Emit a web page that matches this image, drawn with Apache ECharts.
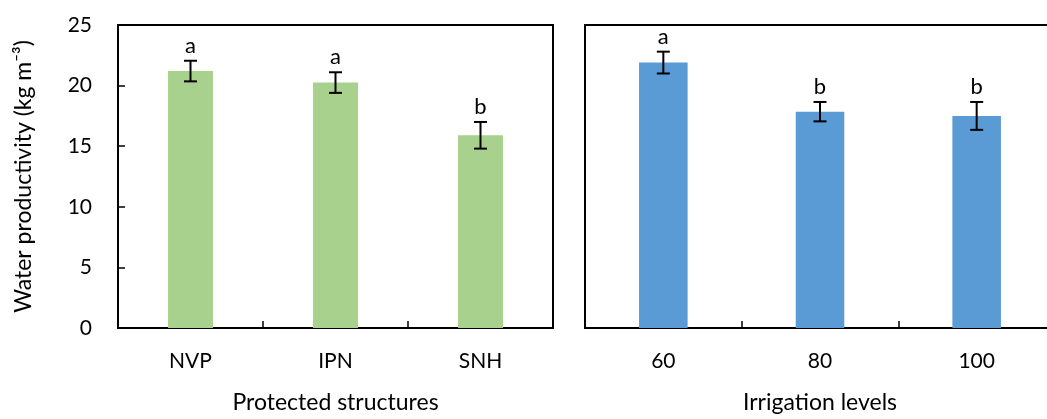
<!DOCTYPE html>
<html>
<head>
<meta charset="utf-8">
<script src="https://cdn.jsdelivr.net/npm/echarts@6/dist/echarts.min.js"></script>
<style>html,body{margin:0;padding:0;background:#fff;overflow:hidden}#c{width:1058px;height:419px}</style>
</head>
<body>
<div id="c"></div>
<script>
// Data
var structCats = ['NVP', 'IPN', 'SNH'];
var structVals = [21.2, 20.25, 15.9];
var structErr = [0.85, 0.85, 1.1];
var structLetters = ['a', 'a', 'b'];

var irrCats = ['60', '80', '100'];
var irrVals = [21.9, 17.85, 17.5];
var irrErr = [0.9, 0.8, 1.15];
var irrLetters = ['a', 'b', 'b'];

var yTicks = [0, 5, 10, 15, 20, 25];

var FONT = 'Lato, "Open Sans", sans-serif';

function errData(vals, errs, letters) {
  return vals.map(function (v, i) { return [i, v, errs[i], letters[i]]; });
}

function renderErr(params, api) {
  var x = api.value(0), v = api.value(1), e = api.value(2);
  var letter = api.value(3);
  var top = api.coord([x, v + e]);
  var bot = api.coord([x, v - e]);
  var cap = 6.5;
  var st = { stroke: '#000', lineWidth: 2 };
  return {
    type: 'group',
    children: [
      { type: 'line', shape: { x1: top[0], y1: top[1], x2: bot[0], y2: bot[1] }, style: st },
      { type: 'line', shape: { x1: top[0] - cap, y1: top[1], x2: top[0] + cap, y2: top[1] }, style: st },
      { type: 'line', shape: { x1: bot[0] - cap, y1: bot[1], x2: bot[0] + cap, y2: bot[1] }, style: st },
      { type: 'text', style: { text: letter, x: top[0], y: top[1] - 4, textAlign: 'center', textVerticalAlign: 'bottom', fill: '#000', fontSize: 22, fontFamily: FONT } }
    ]
  };
}

var chart = echarts.init(document.getElementById('c'), null, { renderer: 'canvas' });

var option = {
  animation: false,
  backgroundColor: '#fff',
  grid: [
    { left: 118, top: 25, width: 435, height: 306, show: true, borderColor: '#000', borderWidth: 2 },
    { left: 585, top: 25, width: 470, height: 306, show: true, borderColor: '#000', borderWidth: 2 }
  ],
  xAxis: [
    {
      type: 'category', gridIndex: 0, data: structCats,
      name: 'Protected structures', nameLocation: 'middle', nameGap: 63,
      nameTextStyle: { fontSize: 23, fontFamily: FONT, color: '#000' },
      axisLine: { lineStyle: { color: '#000', width: 2 } },
      axisTick: { show: true, inside: true, length: 7, lineStyle: { color: '#000', width: 1.5 } },
      axisLabel: { fontSize: 21, fontFamily: FONT, color: '#000', margin: 23 }
    },
    {
      type: 'category', gridIndex: 1, data: irrCats,
      name: 'Irrigation levels', nameLocation: 'middle', nameGap: 63,
      nameTextStyle: { fontSize: 23, fontFamily: FONT, color: '#000' },
      axisLine: { lineStyle: { color: '#000', width: 2 } },
      axisTick: { show: true, inside: true, length: 7, lineStyle: { color: '#000', width: 1.5 } },
      axisLabel: { fontSize: 21, fontFamily: FONT, color: '#000', margin: 23 }
    }
  ],
  yAxis: [
    {
      type: 'value', gridIndex: 0, min: yTicks[0], max: yTicks[yTicks.length - 1], interval: 5,
      name: 'Water productivity (kg m\u207B\u00B3)', nameLocation: 'middle', nameGap: 83,
      nameTextStyle: { fontSize: 23, fontFamily: FONT, color: '#000' },
      axisLine: { show: true, lineStyle: { color: '#000', width: 2 } },
      axisTick: { show: true, inside: true, length: 7, lineStyle: { color: '#000', width: 1.5 } },
      axisLabel: { fontSize: 21, fontFamily: FONT, color: '#000', margin: 26 },
      splitLine: { show: false }
    },
    {
      type: 'value', gridIndex: 1, min: yTicks[0], max: yTicks[yTicks.length - 1], interval: 5,
      axisLine: { show: true, lineStyle: { color: '#000', width: 2 } },
      axisTick: { show: false },
      axisLabel: { show: false },
      splitLine: { show: false }
    }
  ],
  series: [
    {
      type: 'bar', xAxisIndex: 0, yAxisIndex: 0, data: structVals,
      barWidth: '31%', itemStyle: { color: '#A9D18E' }
    },
    {
      type: 'bar', xAxisIndex: 1, yAxisIndex: 1, data: irrVals,
      barWidth: '31%', itemStyle: { color: '#5B9BD5' }
    },
    {
      type: 'custom', xAxisIndex: 0, yAxisIndex: 0, renderItem: renderErr,
      data: errData(structVals, structErr, structLetters), z: 10
    },
    {
      type: 'custom', xAxisIndex: 1, yAxisIndex: 1, renderItem: renderErr,
      data: errData(irrVals, irrErr, irrLetters), z: 10
    }
  ]
};
chart.setOption(option);
</script>
</body>
</html>
